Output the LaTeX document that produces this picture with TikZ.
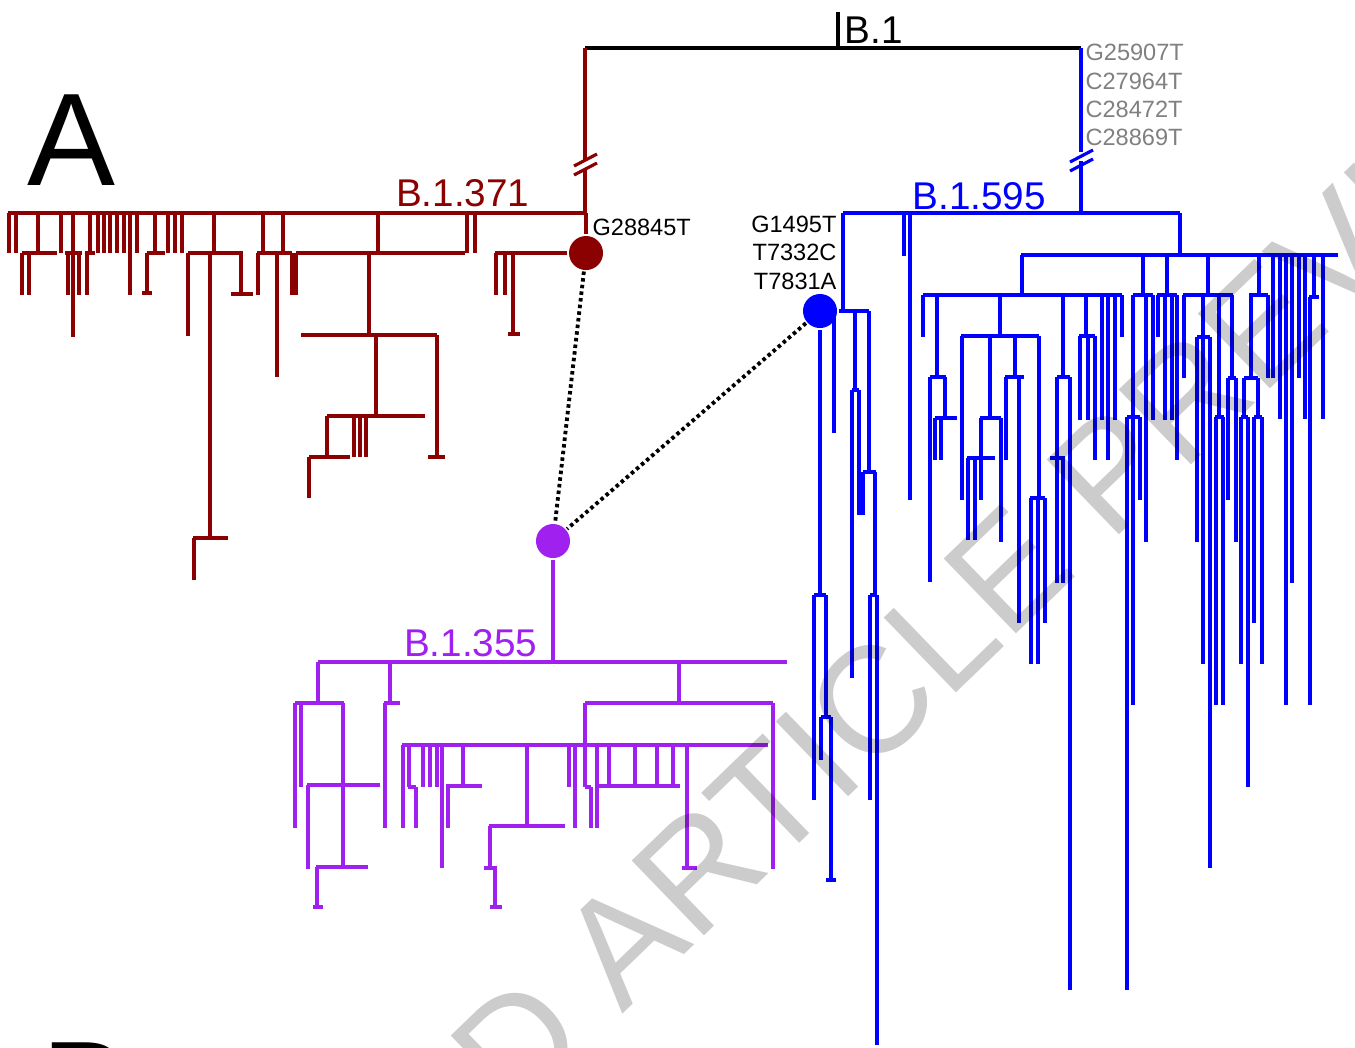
\documentclass[tikz,border=0pt]{standalone}
\usepackage{fontspec}
\setmainfont{Liberation Sans}
\definecolor{c371}{RGB}{139,0,0}
\definecolor{c355}{RGB}{160,32,240}
\definecolor{c595}{RGB}{0,0,255}
\definecolor{cgray}{RGB}{128,128,128}
\begin{document}
\begin{tikzpicture}[x=0.01cm, y=-0.01cm, line width=0.9pt,
    br371/.style={draw=c371}, br355/.style={draw=c355}, br595/.style={draw=c595},
    brtop/.style={draw=black, line width=1.1pt},
    knot/.style={circle, inner sep=0pt, minimum size=0.34cm},
    cladelab/.style={inner sep=0pt, font=\fontsize{11}{13}\selectfont},
    mutlab/.style={inner sep=0pt, font=\fontsize{6.7}{8}\selectfont},
    link/.style={draw=black, line width=1.1pt, dash pattern=on 1pt off 0.9pt}]
    \useasboundingbox (0,0) rectangle (1355,1047);
    \clip (0,0) rectangle (1355,1047);

    \node[knot, fill=c371] (n371) at (586,253) {};
    \node[knot, fill=c595] (n595) at (820,311) {};
    \node[knot, fill=c355] (n355) at (553,541) {};

    % B.1
    \draw[brtop] (585,48) -- (1081,48);
    \draw[brtop] (838,12) -- (838,48);
    \node[cladelab, anchor=base west] (lab1) at (843,43) {B.1};
    \foreach \y/\m in {52/G25907T, 81/C27964T, 109/C28472T, 137/C28869T}
        \node[mutlab, text=cgray, anchor=west] (m\m) at (1084,\y) {\m};

    % B.1.371
    \draw[br371] (585,48) -- (585,160) (585,170) -- (585,213);
    \draw[br371] (574,166) -- (597,154) (574,175) -- (597,163);
    \node[cladelab, text=c371, anchor=base east] (lab371) at (531,206) {B.1.371};
    \node[mutlab, anchor=west] (m371) at (591,227) {G28845T};
    \draw[br371] (8,213) -- (585,213);
    \foreach \x in {9,16,61,98,104,110,117,124,137,168,175,182,467,475}
        \draw[br371] (\x,213) -- (\x,253);
    \draw[br371] (38,213) -- (38,253) (22,253) -- (57,253) (22,253) -- (22,295) (29,253) -- (29,295);
    \draw[br371] (73,213) -- (73,337) (65,253) -- (82,253) (68,253) -- (68,295) (79,253) -- (79,295);
    \draw[br371] (90,213) -- (90,253) (85,253) -- (95,253) (87,253) -- (87,295);
    \draw[br371] (130,213) -- (130,295);
    \draw[br371] (155,213) -- (155,253) (147,253) -- (165,253) (147,253) -- (147,293) (142,293) -- (152,293);
    \draw[br371] (214,213) -- (214,253) (188,253) -- (243,253) (188,253) -- (188,336)
        (210,253) -- (210,538) (193,538) -- (228,538) (194,538) -- (194,580)
        (241,253) -- (241,294) (231,294) -- (253,294);
    \draw[br371] (263,213) -- (263,253) (257,253) -- (280,253) (258,253) -- (258,295);
    \draw[br371] (283,213) -- (283,253) (277,253) -- (292,253) (277,253) -- (277,377) (292,253) -- (292,295);
    \draw[br371] (378,213) -- (378,253) (296,253) -- (465,253) (296,253) -- (296,295)
        (369,253) -- (369,335) (301,335) -- (437,335) (376,335) -- (376,416) (327,416) -- (425,416)
        (327,416) -- (327,457) (309,457) -- (350,457) (309,457) -- (309,498)
        (437,335) -- (437,457) (428,457) -- (445,457);
    \foreach \x in {354,360,366}
        \draw[br371] (\x,416) -- (\x,457);
    \draw[br371] (586,213) -- (n371);
    \draw[br371] (n371) -- (495,253);
    \draw[br371] (496,253) -- (496,295) (505,253) -- (505,295) (513,253) -- (513,334) (508,334) -- (520,334);

    % B.1.355
    \node[cladelab, text=c355, anchor=base east] (lab355) at (539,656) {B.1.355};
    \draw[br355] (n355) -- (553,662);
    \draw[br355] (318,662) -- (787,662);
    \draw[br355] (318,662) -- (318,703) (295,703) -- (344,703) (295,703) -- (295,828) (301,703) -- (301,787)
        (343,703) -- (343,867) (307,785) -- (380,785) (308,785) -- (308,869)
        (316,867) -- (368,867) (317,867) -- (317,907) (313,907) -- (323,907);
    \draw[br355] (390,662) -- (390,703) (384,703) -- (400,703) (385,703) -- (385,828);
    \draw[br355] (679,662) -- (679,703) (585,703) -- (773,703) (773,703) -- (773,869)
        (585,703) -- (585,787) (402,745) -- (768,745) (585,787) -- (591,787) (591,787) -- (591,828);
    \draw[br355] (403,745) -- (403,828) (409,745) -- (409,787) (408,787) -- (416,787) (416,787) -- (416,828)
        (442,745) -- (442,868) (463,745) -- (463,786) (446,786) -- (482,786) (448,786) -- (448,828)
        (527,745) -- (527,826) (489,826) -- (565,826) (490,826) -- (490,868) (484,868) -- (497,868)
        (495,868) -- (495,907) (490,907) -- (502,907)
        (569,745) -- (569,787) (575,745) -- (575,828) (597,745) -- (597,828)
        (609,745) -- (609,786) (598,786) -- (680,786) (687,745) -- (687,868) (682,868) -- (697,868);
    \foreach \x in {423,430,437,635,657,673}
        \draw[br355] (\x,745) -- (\x,787);

    % B.1.595
    \draw[br595] (1081,48) -- (1081,152) (1081,161) -- (1081,213);
    \draw[br595] (1070,162) -- (1093,150) (1070,171) -- (1093,159);
    \node[cladelab, text=c595, anchor=base west] (lab595) at (911,209) {B.1.595};
    \foreach \y/\m in {224/G1495T, 252/T7332C, 281/T7831A}
        \node[mutlab, anchor=east] (m\m) at (838,\y) {\m};
    \draw[br595] (843,213) -- (1180,213) (843,213) -- (843,311);
    \draw[br595] (904,213) -- (904,256) (910,213) -- (910,500);
    \draw[br595] (n595) -- (869,311);
    \draw[br595] (n595) -- (820,595) (814,595) -- (826,595) (814,595) -- (814,800) (826,595) -- (826,717)
        (821,717) -- (831,717) (821,717) -- (821,760) (831,717) -- (831,880) (826,880) -- (836,880);
    \draw[br595] (834,311) -- (834,433)
        (855,311) -- (855,390) (852,390) -- (859,390) (852,390) -- (852,678) (859,390) -- (859,515)
        (869,311) -- (869,472) (863,472) -- (876,472) (863,472) -- (863,515) (875,472) -- (875,595)
        (870,595) -- (877,595) (870,595) -- (870,800) (877,595) -- (877,1045);
    \draw[br595] (1180,213) -- (1180,255) (1021,255) -- (1338,255);
    \draw[br595] (1022,255) -- (1022,295) (923,295) -- (1122,295) (923,295) -- (923,337)
        (937,295) -- (937,377) (930,377) -- (946,377) (930,377) -- (930,582) (945,377) -- (945,418)
        (935,418) -- (957,418) (935,418) -- (935,460) (941,418) -- (941,460)
        (1000,295) -- (1000,336) (961,336) -- (1039,336) (962,336) -- (962,500)
        (990,336) -- (990,418) (980,418) -- (1001,418) (981,418) -- (981,500) (967,458) -- (995,458)
        (968,458) -- (968,540) (975,458) -- (975,540) (1001,418) -- (1001,542)
        (1015,336) -- (1015,377) (1005,377) -- (1024,377) (1006,377) -- (1006,460) (1019,377) -- (1019,623)
        (1039,336) -- (1039,498) (1030,498) -- (1045,498) (1031,498) -- (1031,664) (1038,498) -- (1038,664)
        (1045,498) -- (1045,623)
        (1063,295) -- (1063,377) (1057,377) -- (1070,377) (1057,377) -- (1057,458) (1050,458) -- (1065,458)
        (1057,458) -- (1057,583) (1063,458) -- (1063,583) (1070,377) -- (1070,990)
        (1086,295) -- (1086,336) (1079,336) -- (1095,336) (1080,336) -- (1080,420) (1088,336) -- (1088,420)
        (1095,336) -- (1095,460) (1102,295) -- (1102,420) (1108,295) -- (1108,460) (1115,295) -- (1115,420)
        (1122,295) -- (1122,337);
    \draw[br595] (1143,255) -- (1143,295) (1133,295) -- (1153,295)
        (1133,295) -- (1133,417) (1127,417) -- (1140,417) (1127,417) -- (1127,990) (1133,417) -- (1133,705)
        (1140,417) -- (1140,500) (1146,295) -- (1146,542) (1153,295) -- (1153,420);
    \draw[br595] (1167,255) -- (1167,295) (1157,295) -- (1177,295) (1158,295) -- (1158,337)
        (1165,295) -- (1165,420) (1172,295) -- (1172,420) (1177,295) -- (1177,460);
    \draw[br595] (1208,255) -- (1208,295) (1183,295) -- (1233,295) (1184,295) -- (1184,378)
        (1203,295) -- (1203,337) (1197,337) -- (1210,337) (1197,337) -- (1197,542) (1203,337) -- (1203,664)
        (1210,337) -- (1210,868)
        (1219,295) -- (1219,417) (1215,417) -- (1224,417) (1216,417) -- (1216,705) (1223,417) -- (1223,705)
        (1232,295) -- (1232,378) (1228,378) -- (1236,378) (1228,378) -- (1228,500) (1236,378) -- (1236,542);
    \draw[br595] (1259,255) -- (1259,295) (1249,295) -- (1268,295)
        (1251,295) -- (1251,378) (1244,378) -- (1258,378) (1244,378) -- (1244,417) (1241,417) -- (1248,417)
        (1241,417) -- (1241,664) (1248,417) -- (1248,787) (1258,378) -- (1258,417) (1254,417) -- (1262,417)
        (1254,417) -- (1254,623) (1262,417) -- (1262,664) (1268,295) -- (1268,378);
    \draw[br595] (1273,255) -- (1273,378) (1280,255) -- (1280,419) (1286,255) -- (1286,705)
        (1292,255) -- (1292,583) (1299,255) -- (1299,378) (1305,255) -- (1305,419)
        (1314,255) -- (1314,297) (1309,297) -- (1319,297) (1310,297) -- (1310,705) (1323,255) -- (1323,419);

    \draw[link] (n371) -- (n355);
    \draw[link] (n595) -- (n355);

    \node[inner sep=0pt, anchor=base west, font=\fontsize{37.5}{40}\selectfont] (panA) at (26,185) {A};
    \node[inner sep=0pt, anchor=base west, font=\fontsize{37.5}{40}\selectfont] (panB) at (40,1133) {B};

    \node[inner sep=0pt, rotate=44, text=black, text opacity=0.2,
        font=\fontsize{43}{43}\selectfont] (wmark) at (770,800) {ACCEPTED ARTICLE PREVIEW};
\end{tikzpicture}
\end{document}
